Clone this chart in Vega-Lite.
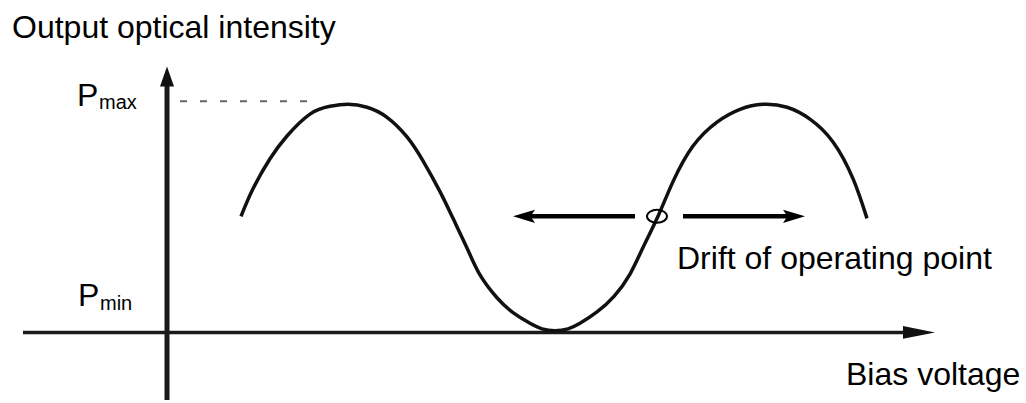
{
  "$schema": "https://vega.github.io/schema/vega-lite/v6.json",
  "width": 1026,
  "height": 403,
  "autosize": {"type": "fit", "contains": "padding"},
  "padding": 0,
  "background": "white",
  "config": {"view": {"stroke": null}},
  "encoding": {
    "x": {"type": "quantitative", "scale": {"domain": [-1.67, 8.59], "nice": false, "zero": false}, "axis": null},
    "y": {"type": "quantitative", "scale": {"domain": [-0.296, 1.457], "nice": false, "zero": false}, "axis": null}
  },
  "layer": [
    {
      "data": {"values": [{"part": "pmax", "x": 0.13, "x2": 1.51, "y": 1.013, "y2": 1.013}]},
      "mark": {"type": "rule", "stroke": "#666", "strokeWidth": 2, "strokeDash": [7, 13]},
      "encoding": {"x": {"field": "x"}, "x2": {"field": "x2"}, "y": {"field": "y"}, "y2": {"field": "y2"}}
    },
    {
      "data": {"values": [{"part": "yaxis", "x": 0, "x2": 0, "y": -0.296, "y2": 1.1}]},
      "mark": {"type": "rule", "stroke": "#1a1a1a", "strokeWidth": 5},
      "encoding": {"x": {"field": "x"}, "x2": {"field": "x2"}, "y": {"field": "y"}, "y2": {"field": "y2"}}
    },
    {
      "data": {"values": [{"part": "xaxis", "x": -1.44, "x2": 7.55, "y": 0, "y2": 0}]},
      "mark": {"type": "rule", "stroke": "#1a1a1a", "strokeWidth": 3.5},
      "encoding": {"x": {"field": "x"}, "x2": {"field": "x2"}, "y": {"field": "y"}, "y2": {"field": "y2"}}
    },
    {
      "data": {"values": [
        {"part": "drift-left", "x": 3.62, "x2": 4.68, "y": 0.509, "y2": 0.509},
        {"part": "drift-right", "x": 5.16, "x2": 6.22, "y": 0.509, "y2": 0.509}
      ]},
      "mark": {"type": "rule", "stroke": "#000", "strokeWidth": 4.5},
      "encoding": {"x": {"field": "x"}, "x2": {"field": "x2"}, "y": {"field": "y"}, "y2": {"field": "y2"}}
    },
    {
      "data": {"values": [
        {"v": 0.74, "p": 0.509}, {"v": 0.86, "p": 0.630}, {"v": 1.03, "p": 0.761}, {"v": 1.20, "p": 0.861},
        {"v": 1.43, "p": 0.957}, {"v": 1.63, "p": 0.991}, {"v": 1.81, "p": 1.0}, {"v": 2.00, "p": 0.987},
        {"v": 2.20, "p": 0.943}, {"v": 2.40, "p": 0.857}, {"v": 2.56, "p": 0.752}, {"v": 2.73, "p": 0.617},
        {"v": 2.86, "p": 0.500}, {"v": 3.00, "p": 0.370}, {"v": 3.13, "p": 0.252}, {"v": 3.30, "p": 0.152},
        {"v": 3.46, "p": 0.087}, {"v": 3.63, "p": 0.040}, {"v": 3.75, "p": 0.016}, {"v": 3.88, "p": 0.008},
        {"v": 4.01, "p": 0.016}, {"v": 4.13, "p": 0.040}, {"v": 4.30, "p": 0.090}, {"v": 4.47, "p": 0.158},
        {"v": 4.63, "p": 0.256}, {"v": 4.76, "p": 0.372}, {"v": 4.91, "p": 0.509},
        {"v": 5.06, "p": 0.661}, {"v": 5.26, "p": 0.817}, {"v": 5.50, "p": 0.922}, {"v": 5.73, "p": 0.978},
        {"v": 5.96, "p": 1.0}, {"v": 6.20, "p": 0.987}, {"v": 6.43, "p": 0.935}, {"v": 6.66, "p": 0.835},
        {"v": 6.86, "p": 0.674}, {"v": 7.00, "p": 0.500}
      ]},
      "mark": {"type": "line", "stroke": "#111", "strokeWidth": 3.5, "interpolate": "natural"},
      "encoding": {"x": {"field": "v"}, "y": {"field": "p"}}
    },
    {
      "data": {"values": [{"part": "yarrow", "x": 0, "y": 1.122}]},
      "mark": {"type": "point", "shape": "M0,-1L0.7,1L-0.7,1Z", "size": 400, "filled": true, "fill": "#111", "opacity": 1},
      "encoding": {"x": {"field": "x"}, "y": {"field": "y"}}
    },
    {
      "data": {"values": [{"part": "xarrow", "x": 7.52, "y": 0}]},
      "mark": {"type": "point", "shape": "M1,0L-1,-0.4L-1,0.4Z", "size": 1024, "filled": true, "fill": "#111", "opacity": 1},
      "encoding": {"x": {"field": "x"}, "y": {"field": "y"}}
    },
    {
      "data": {"values": [{"part": "drift-left-head", "x": 3.57, "y": 0.509}]},
      "mark": {"type": "point", "shape": "M-1,0L1,-0.6L0.6,0L1,0.6Z", "size": 484, "filled": true, "fill": "#000", "opacity": 1},
      "encoding": {"x": {"field": "x"}, "y": {"field": "y"}}
    },
    {
      "data": {"values": [{"part": "drift-right-head", "x": 6.27, "y": 0.509}]},
      "mark": {"type": "point", "shape": "M1,0L-1,-0.6L-0.6,0L-1,0.6Z", "size": 484, "filled": true, "fill": "#000", "opacity": 1},
      "encoding": {"x": {"field": "x"}, "y": {"field": "y"}}
    },
    {
      "data": {"values": [{"part": "operating point", "x": 4.90, "y": 0.509}]},
      "mark": {"type": "point", "shape": "M-1,0A1,0.65 0 1,0 1,0A1,0.65 0 1,0 -1,0Z", "size": 400, "filled": false, "stroke": "#000", "strokeWidth": 2, "opacity": 1},
      "encoding": {"x": {"field": "x"}, "y": {"field": "y"}}
    },
    {
      "data": {"values": [
        {"label": "Output optical intensity", "x": -1.55, "y": 1.291},
        {"label": "P", "x": -0.90, "y": 0.991},
        {"label": "P", "x": -0.89, "y": 0.117},
        {"label": "Drift of operating point", "x": 5.10, "y": 0.276},
        {"label": "Bias voltage", "x": 6.79, "y": -0.230}
      ]},
      "mark": {"type": "text", "font": "Liberation Sans", "fontSize": 32, "align": "left", "baseline": "alphabetic", "color": "#000"},
      "encoding": {"x": {"field": "x"}, "y": {"field": "y"}, "text": {"field": "label"}}
    },
    {
      "data": {"values": [
        {"label": "max", "x": -0.68, "y": 0.978},
        {"label": "min", "x": -0.67, "y": 0.100}
      ]},
      "mark": {"type": "text", "font": "Liberation Sans", "fontSize": 20, "align": "left", "baseline": "alphabetic", "color": "#000"},
      "encoding": {"x": {"field": "x"}, "y": {"field": "y"}, "text": {"field": "label"}}
    }
  ]
}
